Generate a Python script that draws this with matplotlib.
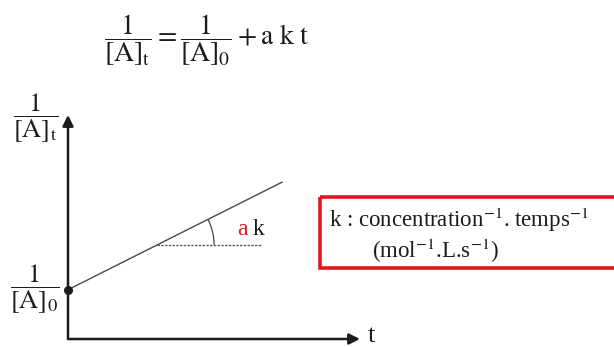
import numpy as np
import matplotlib
matplotlib.use('Agg')
import matplotlib.pyplot as plt
from matplotlib.patches import Arc, Rectangle

plt.rcParams['font.family'] = ['Liberation Serif', 'DejaVu Serif']
plt.rcParams['mathtext.fontset'] = 'stix'

# 1/[A] versus t for a second-order reaction
inv_A0 = 2.2          # intercept 1/[A]0
ak = 0.655            # slope a*k
t_end = 7.35
t_ref = 3.05          # where the slope angle is marked
t_ref_end = 6.65

t = np.array([0.0, t_end])
inv_A = inv_A0 + ak * t

ink = '#1c1c1c'
red = '#e3161d'

fig = plt.figure(figsize=(6.14, 3.47), dpi=100)
fig.patch.set_facecolor('white')

# plot area: origin at the corner of the two arrows
ax = fig.add_axes([68 / 614, (347 - 339) / 347, 292 / 614, 224 / 347])
ax.set_xlim(0, 10)
ax.set_ylim(0, 10)
ax.axis('off')

# overlay in pixel units for the annotations
pix = fig.add_axes([0, 0, 1, 1], zorder=-1)
pix.set_xlim(0, 614)
pix.set_ylim(347, 0)
pix.axis('off')

def to_pix(pts):
    return pix.transData.inverted().transform(ax.transData.transform(pts))

# axes with arrow heads
arrow = dict(arrowstyle='-|>', color=ink, lw=1.8, mutation_scale=16, shrinkA=0, shrinkB=0)
ax.annotate('', xy=(0, 10), xytext=(0, 0), arrowprops=arrow, annotation_clip=False)
ax.annotate('', xy=(10, 0), xytext=(0, 0), arrowprops=arrow, annotation_clip=False)

# the straight line and its intercept
ax.plot(t, inv_A, color='#4a4a4a', lw=1.0, solid_capstyle='butt')
ax.plot([0], [inv_A0], 'o', color=ink, ms=5.5, clip_on=False, zorder=5)

# reference level and slope angle
y_ref = inv_A0 + ak * t_ref
ax.plot([t_ref, t_ref_end], [y_ref, y_ref], color='#555555', lw=0.9, ls=(0, (2, 1)))
(cx, cy), (ex, ey) = to_pix([[t_ref, y_ref], [t_end, inv_A[-1]]])
angle = np.degrees(np.arctan2(cy - ey, ex - cx))
r = 57
pix.add_patch(Arc((cx, cy), 2 * r, 2 * r, theta1=-angle, theta2=0, color='#444444', lw=0.9))
pix.text(237, 229, 'a', color=red, fontsize=17, va='center', ha='left')
pix.text(253, 229, 'k', color=ink, fontsize=17, va='center', ha='left')

# axis labels
pix.text(36, 118, r'$\dfrac{1}{[\mathrm{A}]_\mathrm{t}}$', color=ink, fontsize=19, ha='center', va='center')
pix.text(35, 289, r'$\dfrac{1}{[\mathrm{A}]_0}$', color=ink, fontsize=19, ha='center', va='center')
pix.text(368, 336, 't', color=ink, fontsize=19, ha='left', va='center')

# rate law
pix.text(104, 40, r'$\dfrac{1}{[\mathrm{A}]_\mathrm{t}} = \dfrac{1}{[\mathrm{A}]_0} + \mathrm{a\ k\ t}$',
         color=ink, fontsize=20, ha='left', va='center')

# units of k
pix.add_patch(Rectangle((320, 197), 320, 71, fill=False, edgecolor=red, lw=2.6, clip_on=True))
pix.text(329, 220, r'k : concentration$^{-1}$. temps$^{-1}$', color=ink, fontsize=16.5, ha='left', va='center')
pix.text(372, 251, r'(mol$^{-1}$.L.s$^{-1}$)', color=ink, fontsize=16.5, ha='left', va='center')

fig.savefig('out.png', dpi=100, facecolor='white')
